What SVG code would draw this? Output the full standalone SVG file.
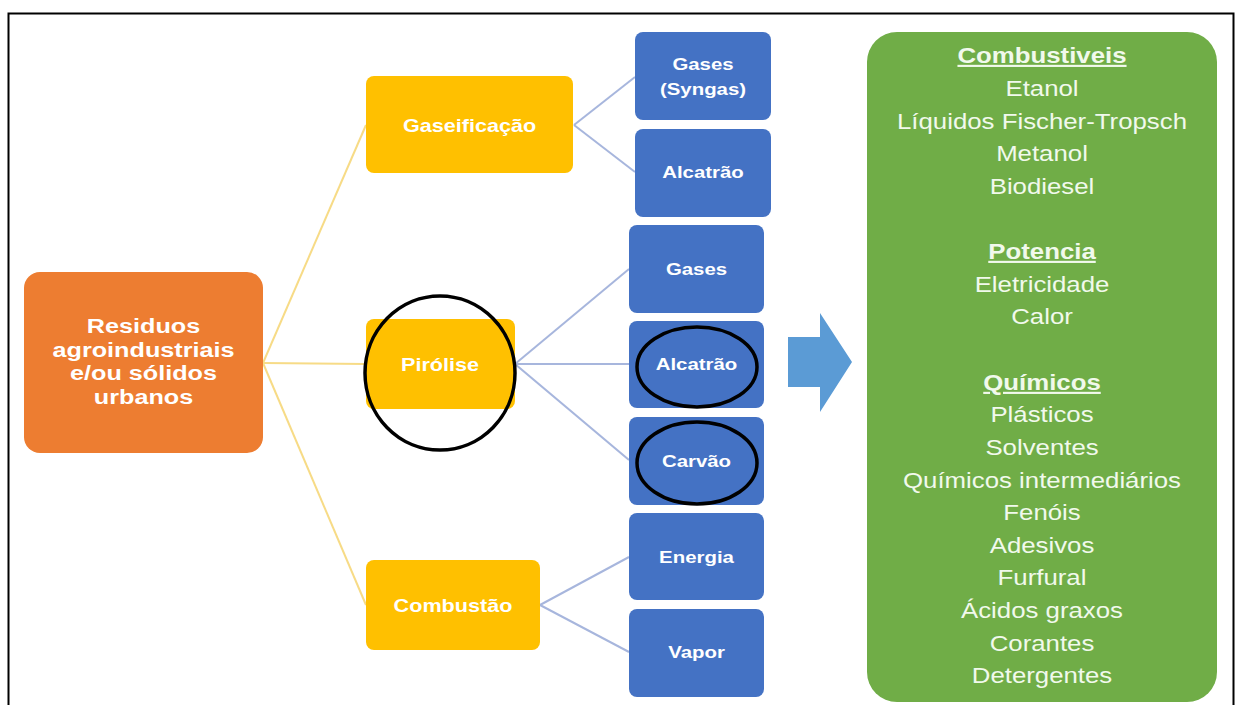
<svg xmlns="http://www.w3.org/2000/svg" width="1238" height="705" viewBox="0 0 1238 705">
<style>
.t{font-family:"Liberation Sans",Arial,sans-serif;text-anchor:middle;fill:#FFFFFF}
.b{font-weight:bold}
.g{fill:#F1F9EC;font-size:21.5px}
.h{font-weight:bold;text-decoration:underline}
.yl{stroke:#F7DB86;stroke-width:2;fill:none}
.bl{stroke:#A7B6DD;stroke-width:2;fill:none}
.blue{fill:#4472C4}
.yel{fill:#FFC000}
.ring{fill:none;stroke:#000;stroke-width:3.5}
</style>
<rect width="1238" height="705" fill="#FFFFFF"/>
<path d="M8.5,705 V13.5 H1233.5 V705" fill="none" stroke="#000" stroke-width="2"/>

<g id="connectors">
<line class="yl" x1="263" y1="363" x2="366" y2="125"/>
<line class="yl" x1="263" y1="363" x2="366" y2="364"/>
<line class="yl" x1="263" y1="363" x2="366" y2="605"/>
<line class="bl" x1="574" y1="125" x2="635" y2="77"/>
<line class="bl" x1="574" y1="125" x2="635" y2="172"/>
<line class="bl" x1="515" y1="364" x2="629" y2="269"/>
<line class="bl" x1="515" y1="364" x2="629" y2="364"/>
<line class="bl" x1="515" y1="364" x2="629" y2="460"/>
<line class="bl" x1="540" y1="605" x2="629" y2="557"/>
<line class="bl" x1="540" y1="605" x2="629" y2="652"/>
</g>

<g id="residuos">
<rect x="24" y="272" width="239" height="181" rx="16" fill="#ED7D31"/>
<text class="t b" font-size="21" transform="translate(143.5 333) scale(1.2 1)">Residuos</text>
<text class="t b" font-size="21" transform="translate(143.5 357) scale(1.2 1)">agroindustriais</text>
<text class="t b" font-size="21" transform="translate(143.5 380) scale(1.2 1)">e/ou sólidos</text>
<text class="t b" font-size="21" transform="translate(143.5 404) scale(1.2 1)">urbanos</text>
</g>

<g id="gaseificacao">
<rect class="yel" x="366" y="76" width="207" height="97" rx="8"/>
<text class="t b" font-size="18" transform="translate(469.5 132) scale(1.2 1)">Gaseificação</text>
</g>
<g id="pirolise">
<rect class="yel" x="366" y="319" width="149" height="90" rx="8"/>
<text class="t b" font-size="18" transform="translate(440 371) scale(1.2 1)">Pirólise</text>
<ellipse class="ring" cx="440" cy="373" rx="75" ry="77"/>
</g>
<g id="combustao">
<rect class="yel" x="366" y="560" width="174" height="90" rx="8"/>
<text class="t b" font-size="18" transform="translate(453 612) scale(1.2 1)">Combustão</text>
</g>

<g id="gases-syngas">
<rect class="blue" x="635" y="32" width="136" height="88" rx="8"/>
<text class="t b" font-size="17" transform="translate(703 70) scale(1.2 1)">Gases</text>
<text class="t b" font-size="17" transform="translate(703 95) scale(1.2 1)">(Syngas)</text>
</g>
<g id="alcatrao-1">
<rect class="blue" x="635" y="129" width="136" height="88" rx="8"/>
<text class="t b" font-size="17" transform="translate(703 178) scale(1.2 1)">Alcatrão</text>
</g>
<g id="gases">
<rect class="blue" x="629" y="225" width="135" height="88" rx="8"/>
<text class="t b" font-size="17" transform="translate(696.5 275) scale(1.2 1)">Gases</text>
</g>
<g id="alcatrao-2">
<rect class="blue" x="629" y="321" width="135" height="87" rx="8"/>
<text class="t b" font-size="17" transform="translate(696.5 370) scale(1.2 1)">Alcatrão</text>
<ellipse class="ring" cx="697" cy="367" rx="60" ry="40"/>
</g>
<g id="carvao">
<rect class="blue" x="629" y="417" width="135" height="88" rx="8"/>
<text class="t b" font-size="17" transform="translate(696.5 467) scale(1.2 1)">Carvão</text>
<ellipse class="ring" cx="697" cy="463" rx="60" ry="41"/>
</g>
<g id="energia">
<rect class="blue" x="629" y="513" width="135" height="87" rx="8"/>
<text class="t b" font-size="17" transform="translate(696.5 563) scale(1.2 1)">Energia</text>
</g>
<g id="vapor">
<rect class="blue" x="629" y="609" width="135" height="88" rx="8"/>
<text class="t b" font-size="17" transform="translate(696.5 658) scale(1.2 1)">Vapor</text>
</g>

<g id="arrow">
<polygon points="788,337 820,337 820,313 852,362 820,412 820,387 788,387" fill="#5B9BD5"/>
</g>

<g id="produtos">
<rect x="867" y="32" width="350" height="670" rx="30" fill="#70AD47"/>
<text class="t g h" transform="translate(1042 63) scale(1.2 1)">Combustiveis</text>
<text class="t g" transform="translate(1042 96) scale(1.2 1)">Etanol</text>
<text class="t g" transform="translate(1042 129) scale(1.2 1)">Líquidos Fischer-Tropsch</text>
<text class="t g" transform="translate(1042 161) scale(1.2 1)">Metanol</text>
<text class="t g" transform="translate(1042 194) scale(1.2 1)">Biodiesel</text>
<text class="t g h" transform="translate(1042 259) scale(1.2 1)">Potencia</text>
<text class="t g" transform="translate(1042 292) scale(1.2 1)">Eletricidade</text>
<text class="t g" transform="translate(1042 324) scale(1.2 1)">Calor</text>
<text class="t g h" transform="translate(1042 390) scale(1.2 1)">Químicos</text>
<text class="t g" transform="translate(1042 422) scale(1.2 1)">Plásticos</text>
<text class="t g" transform="translate(1042 455) scale(1.2 1)">Solventes</text>
<text class="t g" transform="translate(1042 488) scale(1.2 1)">Químicos intermediários</text>
<text class="t g" transform="translate(1042 520) scale(1.2 1)">Fenóis</text>
<text class="t g" transform="translate(1042 553) scale(1.2 1)">Adesivos</text>
<text class="t g" transform="translate(1042 585) scale(1.2 1)">Furfural</text>
<text class="t g" transform="translate(1042 618) scale(1.2 1)">Ácidos graxos</text>
<text class="t g" transform="translate(1042 651) scale(1.2 1)">Corantes</text>
<text class="t g" transform="translate(1042 683) scale(1.2 1)">Detergentes</text>
</g>
</svg>
